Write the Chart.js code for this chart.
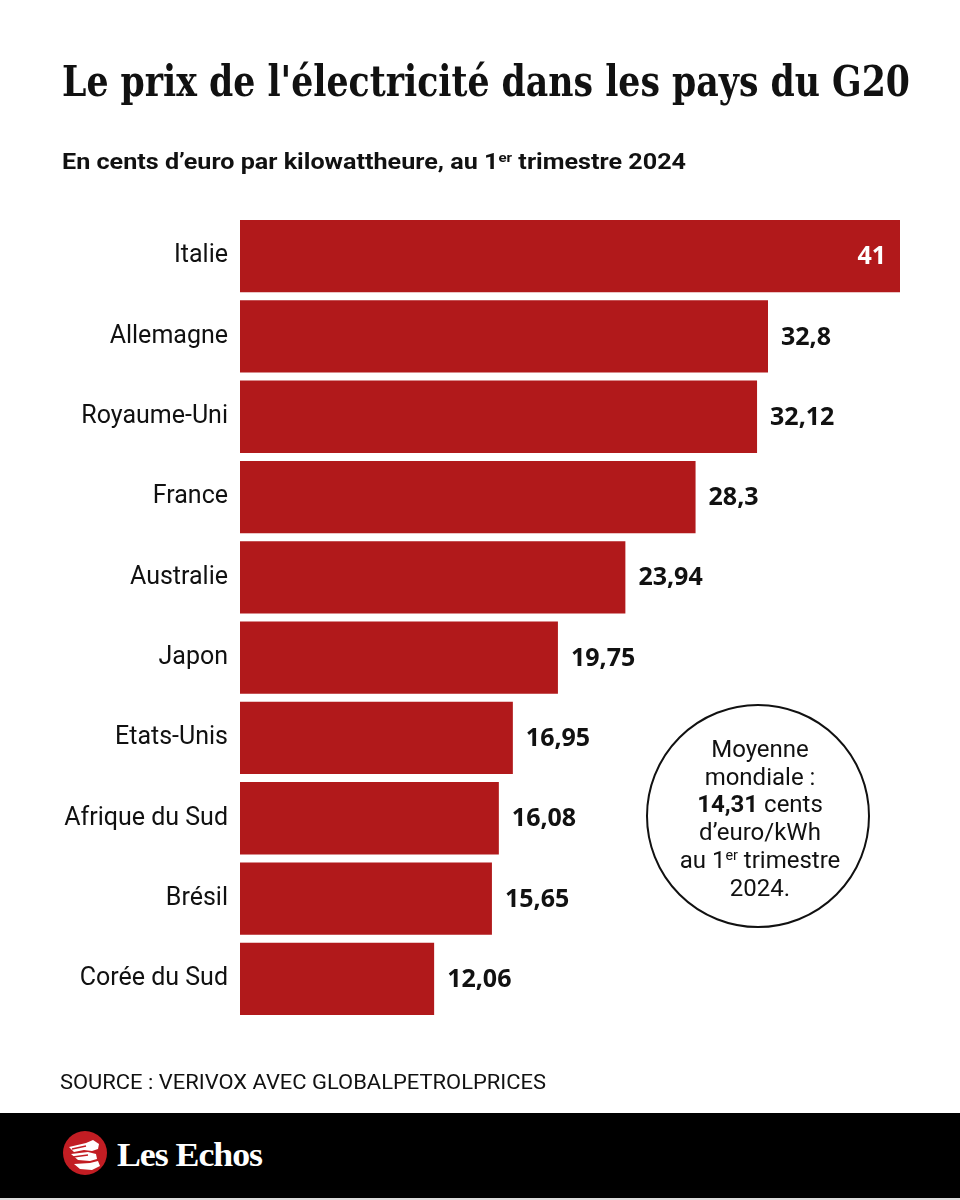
<!DOCTYPE html>
<html>
<head>
<meta charset="utf-8">
<script src="https://cdn.jsdelivr.net/npm/chart.js@4"></script>
<style>
  body { margin: 0; background: #fff; }
  #page { position: relative; width: 960px; height: 1200px; overflow: hidden; background: #fff; }
  #chart { position: absolute; left: 0; top: 0; }
  .txt { position: absolute; white-space: nowrap; line-height: 1; transform-origin: left top; }
  #title { left: 62px; top: 57px; font: bold 42px "DejaVu Serif"; color: #111; }
  #subtitle { left: 62px; top: 149px; font: bold 22px Roboto; color: #111; }
  #source { left: 60px; top: 1070px; font: 20px Roboto; color: #111; }
  sup { font-size: 0.6em; line-height: 0; vertical-align: 0.55em; }
  #bubble { position: absolute; left: 646px; top: 704px; width: 224px; height: 224px; border: 2px solid #111;
            border-radius: 50%; box-sizing: border-box; }
  #bubbleText { position: absolute; left: 646px; top: 736px; width: 228px; text-align: center;
                font: 24px Roboto; line-height: 27.7px; color: #111; }
  #footer { position: absolute; left: 0; top: 1113px; width: 960px; height: 85px; background: #000;
            border-bottom: 2px solid #ddd; }
  #brand { left: 117px; top: 1136px; font: bold 34px "Liberation Serif"; color: #fff; letter-spacing: -1px; }
  #logo { position: absolute; left: 62px; top: 1130px; }
</style>
</head>
<body>
<div id="page">
  <canvas id="chart" width="960" height="1200"></canvas>
  <div class="txt" id="title">Le prix de l'électricité dans les pays du G20</div>
  <div class="txt" id="subtitle">En cents d’euro par kilowattheure, au 1<sup>er</sup> trimestre 2024</div>
  <div id="bubble"></div>
  <div id="bubbleText">Moyenne<br>mondiale :<br><b>14,31</b> cents<br>d’euro/kWh<br>au 1<sup>er</sup> trimestre<br>2024.</div>
  <div class="txt" id="source">SOURCE : VERIVOX AVEC GLOBALPETROLPRICES</div>
  <div id="footer"></div>
  <svg id="logo" width="46" height="46" viewBox="0 0 46 46">
    <circle cx="23" cy="23" r="22" fill="#c21d23"/>
    <path d="M7 17 L24 13 L31 10 L37 14 L36 19 L30 21 L22 20 L12 22 Z" fill="#fff"/>
    <path d="M9 24 L26 22 L34 24 L35 29 L28 31 L16 30 Z" fill="#fff"/>
    <path d="M12 34 L28 33 L36 31 L38 36 L30 40 L18 39 Z" fill="#fff"/>
    <path d="M10 19 L24 16 M11 27 L26 25" stroke="#c21d23" stroke-width="1.5"/>
  </svg>
  <div class="txt" id="brand">Les Echos</div>
</div>
<script>
// donnees
const pays = ["Italie", "Allemagne", "Royaume-Uni", "France", "Australie", "Japon",
              "Etats-Unis", "Afrique du Sud", "Brésil", "Corée du Sud"];
const prix = [41, 32.8, 32.12, 28.3, 23.94, 19.75, 16.95, 16.08, 15.65, 12.06];
const xMax = 41;

function fitWidth(id, target) {
  var el = document.getElementById(id);
  var w = el.getBoundingClientRect().width;
  el.style.transform = "scaleX(" + (target / w) + ")";
}

function formatPrix(v) {
  return String(v).replace(".", ",");
}

const valueLabels = {
  id: "valueLabels",
  afterDatasetsDraw(chart) {
    const ctx = chart.ctx;
    const meta = chart.getDatasetMeta(0);
    ctx.save();
    ctx.font = "bold 25px 'Open Sans'";
    ctx.textBaseline = "middle";
    meta.data.forEach(function(bar, i) {
      var txt = formatPrix(prix[i]);
      if (i == 0) {
        ctx.fillStyle = "#fff";
        ctx.textAlign = "right";
        ctx.fillText(txt, bar.x - 14, bar.y + 1);
      } else {
        ctx.fillStyle = "#111";
        ctx.textAlign = "left";
        ctx.fillText(txt, bar.x + 13, bar.y + 1);
      }
    });
    ctx.restore();
  }
};

document.fonts.ready.then(function() {
  fitWidth("title", 848);
  fitWidth("subtitle", 624);
  fitWidth("source", 486);
  fitWidth("brand", 145);

  new Chart(document.getElementById("chart"), {
    type: "bar",
    data: {
      labels: pays,
      datasets: [{
        data: prix,
        backgroundColor: "#b1191b",
        borderWidth: 0,
        barPercentage: 0.9,
        categoryPercentage: 1
      }]
    },
    options: {
      indexAxis: "y",
      responsive: false,
      animation: false,
      layout: { padding: { top: 216, bottom: 181, left: 0, right: 60 } },
      plugins: { legend: { display: false }, tooltip: { enabled: false } },
      scales: {
        x: { display: false, min: 0, max: xMax },
        y: {
          grid: { display: false, drawTicks: false },
          border: { display: false },
          ticks: { color: "#111", font: { family: "Roboto", size: 25 }, padding: 12 },
          afterFit: function(scale) { scale.width = 240; }
        }
      }
    },
    plugins: [valueLabels]
  });
});
</script>
</body>
</html>
